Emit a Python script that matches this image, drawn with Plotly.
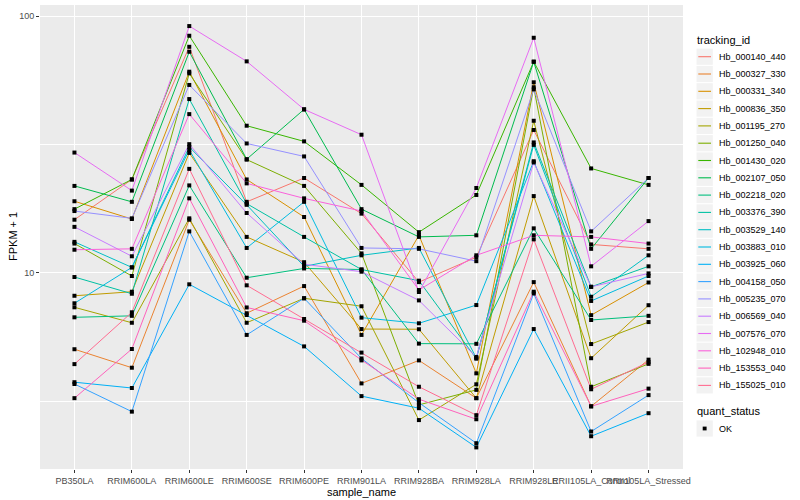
import plotly.graph_objects as go

samples = ["PB350LA", "RRIM600LA", "RRIM600LE", "RRIM600SE", "RRIM600PE", "RRIM901LA",
           "RRIM928BA", "RRIM928LA", "RRIM928LE", "RRII105LA_Control", "RRII105LA_Stressed"]

tracking_ids = ["Hb_000140_440", "Hb_000327_330", "Hb_000331_340", "Hb_000836_350", "Hb_001195_270",
                "Hb_001250_040", "Hb_001430_020", "Hb_002107_050", "Hb_002218_020", "Hb_003376_390",
                "Hb_003529_140", "Hb_003883_010", "Hb_003925_060", "Hb_004158_050", "Hb_005235_070",
                "Hb_006569_040", "Hb_007576_070", "Hb_102948_010", "Hb_153553_040", "Hb_155025_010"]

colors = ["#F8766D", "#EA8331", "#D89000", "#C09B00", "#A3A500", "#7CAE00", "#39B600", "#00BB4E",
          "#00BF7D", "#00C1A3", "#00BFC4", "#00BAE0", "#00B0F6", "#35A2FF", "#9590FF", "#C77CFF",
          "#E76BF3", "#FA62DB", "#FF62BC", "#FF6C91"]

hb_000140_440 = [16.1, 23.1, 75.9, 18.9, 23.4, 17.0, 9.20, 11.5, 36.0, 12.9, 12.4]
hb_000327_330 = [5.04, 4.27, 16.1, 6.96, 8.88, 3.71, 4.56, 3.25, 9.20, 3.02, 4.59]
hb_000331_340 = [19.0, 16.2, 60.7, 23.1, 16.5, 5.73, 14.0, 4.06, 55.2, 6.84, 9.17]
hb_000836_350 = [8.14, 8.44, 29.3, 13.8, 11.0, 6.04, 6.03, 3.25, 19.9, 4.65, 7.48]
hb_001195_270 = [7.34, 6.39, 16.3, 6.39, 7.96, 7.41, 2.67, 3.68, 39.1, 5.28, 6.43]
hb_001250_040 = [13.0, 9.72, 59.8, 27.6, 21.8, 11.9, 3.06, 3.50, 52.8, 3.60, 4.42]
hb_001430_020 = [17.7, 23.1, 83.8, 37.4, 32.5, 22.0, 14.4, 20.1, 66.4, 25.5, 22.0]
hb_002107_050 = [21.8, 18.9, 72.6, 27.7, 43.3, 17.7, 13.8, 14.0, 66.4, 12.4, 23.4]
hb_002218_020 = [6.71, 6.80, 21.9, 9.57, 10.4, 10.3, 5.30, 5.29, 14.9, 6.55, 6.80]
hb_003376_390 = [9.63, 8.29, 47.5, 18.6, 13.8, 10.3, 9.32, 4.63, 32.2, 8.82, 10.6]
hb_003529_140 = [13.2, 10.5, 30.9, 18.4, 10.6, 11.7, 12.5, 4.66, 31.5, 8.07, 11.7]
hb_003883_010 = [7.61, 10.5, 30.1, 12.5, 18.9, 6.69, 6.36, 7.49, 27.2, 7.77, 9.72]
hb_003925_060 = [3.75, 3.56, 9.02, 6.85, 5.17, 3.31, 2.97, 2.09, 6.04, 2.31, 2.84]
hb_004158_050 = [3.69, 2.88, 14.5, 5.73, 7.96, 4.64, 3.12, 2.17, 8.31, 2.41, 3.34]
hb_005235_070 = [17.4, 16.3, 53.9, 31.9, 28.4, 12.5, 12.4, 11.1, 51.8, 14.5, 23.4]
hb_006569_040 = [15.1, 11.6, 31.7, 17.1, 10.8, 10.1, 7.81, 4.70, 26.9, 8.82, 9.95]
hb_007576_070 = [29.4, 20.9, 91.4, 66.6, 43.3, 34.5, 8.42, 21.4, 82.3, 10.6, 15.9]
hb_102948_010 = [12.3, 12.4, 41.5, 22.3, 19.5, 17.4, 8.57, 11.7, 14.0, 13.8, 13.0]
hb_153553_040 = [3.25, 5.05, 19.5, 7.33, 6.51, 4.56, 3.22, 2.69, 8.44, 3.02, 3.54]
hb_155025_010 = [4.41, 7.02, 25.4, 8.94, 6.61, 4.89, 3.60, 2.79, 13.5, 3.52, 4.49]

series = [hb_000140_440, hb_000327_330, hb_000331_340, hb_000836_350, hb_001195_270,
          hb_001250_040, hb_001430_020, hb_002107_050, hb_002218_020, hb_003376_390,
          hb_003529_140, hb_003883_010, hb_003925_060, hb_004158_050, hb_005235_070,
          hb_006569_040, hb_007576_070, hb_102948_010, hb_153553_040, hb_155025_010]

status_labels = ["OK"]
y_ticks = [10, 100]
y_minor = [3.1623, 31.623]

FONT = "Liberation Sans, Arial, sans-serif"

# panel geometry in pixels
L, R, T, B = 40, 683, 5, 469
W, H = R - L, B - T


def px(x):
    return (x - L) / W


def py(y):
    return (B - y) / H


fig = go.Figure()
for name, col, vals in zip(tracking_ids, colors, series):
    fig.add_trace(go.Scatter(x=samples, y=vals, mode="lines", name=name,
                             line=dict(color=col, width=1), showlegend=False))

all_x, all_y = [], []
for vals in series:
    all_x += samples
    all_y += vals
fig.add_trace(go.Scatter(x=all_x, y=all_y, mode="markers", name=status_labels[0], showlegend=False,
                         marker=dict(symbol="square", size=4, color="black", line=dict(width=0))))

shapes = []
annotations = []
annotations.append(dict(text="FPKM + 1", x=px(13), y=0.5, xref="paper", yref="paper",
                        xanchor="center", yanchor="middle", showarrow=False, textangle=-90,
                        font=dict(size=11, color="black")))
annotations.append(dict(text="tracking_id", x=px(695), y=py(40.5), xref="paper", yref="paper",
                        xanchor="left", yanchor="middle", showarrow=False,
                        font=dict(size=11, color="black")))
step = 17.3
y0 = 56.7
for i, (name, col) in enumerate(zip(tracking_ids, colors)):
    yc = y0 + step * i
    shapes.append(dict(type="rect", xref="paper", yref="paper", x0=px(696.5), x1=px(712.8),
                       y0=py(yc - 8.1), y1=py(yc + 8.1), fillcolor="#F2F2F2", line=dict(width=0),
                       layer="below"))
    shapes.append(dict(type="line", xref="paper", yref="paper", x0=px(698.3), x1=px(711),
                       y0=py(yc), y1=py(yc), line=dict(color=col, width=1.1)))
    annotations.append(dict(text=name, x=px(716.5), y=py(yc), xref="paper", yref="paper",
                            xanchor="left", yanchor="middle", showarrow=False,
                            font=dict(size=9, color="black")))
annotations.append(dict(text="quant_status", x=px(695), y=py(411), xref="paper", yref="paper",
                        xanchor="left", yanchor="middle", showarrow=False,
                        font=dict(size=11, color="black")))
yc = 428.5
shapes.append(dict(type="rect", xref="paper", yref="paper", x0=px(696.5), x1=px(712.8),
                   y0=py(yc - 8.1), y1=py(yc + 8.1), fillcolor="#F2F2F2", line=dict(width=0),
                   layer="below"))
shapes.append(dict(type="rect", xref="paper", yref="paper", x0=px(702.7), x1=px(706.6),
                   y0=py(yc - 1.9), y1=py(yc + 1.9), fillcolor="black", line=dict(width=0)))
annotations.append(dict(text=status_labels[0], x=px(716.5), y=py(yc), xref="paper", yref="paper",
                        xanchor="left", yanchor="middle", showarrow=False,
                        font=dict(size=9, color="black")))

fig.update_layout(
    width=800, height=500,
    paper_bgcolor="white", plot_bgcolor="#EBEBEB",
    margin=dict(l=L, r=800 - R, t=T, b=500 - B, autoexpand=False),
    font=dict(family=FONT, color="black"),
    showlegend=False,
    shapes=shapes, annotations=annotations,
    xaxis=dict(type="category", categoryorder="array", categoryarray=samples,
               range=[-0.6, len(samples) - 0.4], tickangle=0, automargin=False,
               showgrid=True, gridcolor="white", gridwidth=1.1,
               ticks="outside", ticklen=3, tickcolor="#333333", ticklabelstandoff=0,
               tickfont=dict(size=9, color="#4D4D4D"), zeroline=False,
               title=dict(text="sample_name", font=dict(size=11), standoff=0)),
    yaxis=dict(type="log", range=[0.236, 2.043], tickvals=y_ticks, ticktext=["10", "100"],
               showgrid=True, gridcolor="white", gridwidth=1.1, automargin=False,
               minor=dict(tickvals=y_minor, showgrid=True, gridcolor="white", gridwidth=0.5, ticks=""),
               ticks="outside", ticklen=3, tickcolor="#333333",
               tickfont=dict(size=9, color="#4D4D4D"), zeroline=False),
)

fig.write_html("out.html", config={"displayModeBar": False},
               post_script="document.body.style.margin='0px';document.body.style.overflow='hidden';")
